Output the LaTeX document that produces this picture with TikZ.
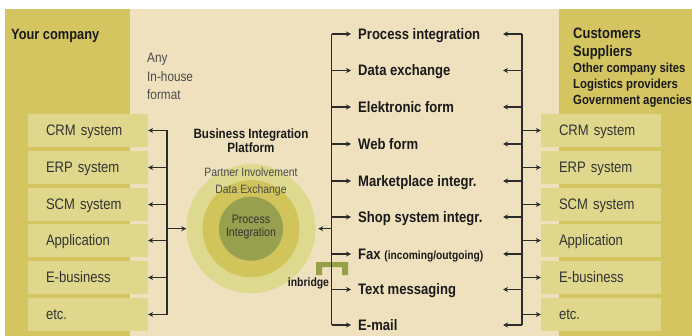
\documentclass[tikz,border=0pt]{standalone}
\usepackage{fontspec}
\setmainfont{Liberation Sans}[FakeStretch=0.86]
\usetikzlibrary{arrows.meta}
\definecolor{panelc}{HTML}{D4C560}
\definecolor{beigec}{HTML}{EFE1BE}
\definecolor{boxc}{HTML}{DFD78C}
\definecolor{outerc}{HTML}{DDD98F}
\definecolor{midc}{HTML}{D1C45B}
\definecolor{innerc}{HTML}{97A04E}
\definecolor{bridgec}{HTML}{96A049}
\definecolor{linec}{HTML}{2B2B2B}
\definecolor{darkt}{HTML}{1A1A1A}
\definecolor{txtc}{HTML}{333333}
\definecolor{greyt}{HTML}{4A4A4A}
\begin{document}
\begin{tikzpicture}[x=1pt,y=-1pt,
  conn/.style={draw=linec, line width=1.1pt, -{Stealth[length=5pt,width=5pt]}},
  bus/.style={draw=linec, line width=1.1pt},
  sysbox/.style={fill=boxc, minimum width=120pt, minimum height=33pt, inner xsep=18pt, inner ysep=0pt,
    text width=84pt, align=left, text height=10.9pt, text depth=0pt,
    font=\fontsize{15.2}{18}\selectfont, text=txtc},
  chan/.style={anchor=west, inner sep=0pt, text height=10.9pt, text depth=0pt,
    font=\bfseries\fontsize{15.2}{18}\selectfont, text=darkt},
  headtxt/.style={anchor=west, inner sep=0pt, text=darkt},
  plain/.style={inner sep=0pt, text=greyt},
  ring/.style={circle, inner sep=0pt, draw=none}
]
\useasboundingbox (0,0) rectangle (692,336);
% background
\fill[white] (0,0) rectangle (692,336);
\fill[panelc] (5,9) rectangle (130,336);
\fill[beigec] (130,9) rectangle (559,336);
\fill[panelc] (559,9) rectangle (692,336);

% headings
\node[headtxt, font=\bfseries\fontsize{14.9}{18}\selectfont, text height=10.7pt, text depth=0pt] (yc) at (11,33.7) {Your company};
\node[plain, anchor=west, font=\fontsize{13.7}{16}\selectfont, text height=9.8pt, text depth=0pt] (any1) at (147,57.3) {Any};
\node[plain, anchor=west, font=\fontsize{13.7}{16}\selectfont, text height=9.8pt, text depth=0pt] (any2) at (147,76.7) {In-house};
\node[plain, anchor=west, font=\fontsize{13.7}{16}\selectfont, text height=9.8pt, text depth=0pt] (any3) at (147,94.3) {format};

\node[headtxt, font=\bfseries\fontsize{15.1}{18}\selectfont, text height=10.8pt, text depth=0pt] (cu) at (573,33) {Customers};
\node[headtxt, font=\bfseries\fontsize{15.1}{18}\selectfont, text height=10.8pt, text depth=0pt] (su) at (573,50.8) {Suppliers};
\node[headtxt, font=\bfseries\fontsize{13.2}{16}\selectfont, text height=9.5pt, text depth=0pt] (oc) at (573,67.3) {Other company sites};
\node[headtxt, font=\bfseries\fontsize{13.2}{16}\selectfont, text height=9.5pt, text depth=0pt] (lp) at (573,83.3) {Logistics providers};
\node[headtxt, font=\bfseries\fontsize{13.2}{16}\selectfont, text height=9.5pt, text depth=0pt] (ga) at (573,99.3) {Government agencies};

% platform
\node[inner sep=0pt, text=darkt, font=\bfseries\fontsize{13.5}{16}\selectfont, text height=9.7pt, text depth=0pt] (bip1) at (251,133.8) {Business Integration};
\node[inner sep=0pt, text=darkt, font=\bfseries\fontsize{13.5}{16}\selectfont, text height=9.7pt, text depth=0pt] (bip2) at (251,147.3) {Platform};

\node[ring, fill=outerc, minimum size=129pt] (cO) at (251,228.7) {};
\node[ring, fill=midc, minimum size=97pt] (cM) at (251,228.7) {};
\node[ring, fill=innerc, minimum size=64pt] (cI) at (251,228.7) {};
\node[plain, font=\fontsize{12.1}{14}\selectfont, text height=8.7pt, text depth=0pt] (pi) at (251,171.7) {Partner Involvement};
\node[plain, font=\fontsize{12.1}{14}\selectfont, text height=8.7pt, text depth=0pt] (de) at (251,189.5) {Data Exchange};
\node[plain, text=txtc, font=\fontsize{12.3}{14}\selectfont, text height=8.8pt, text depth=0pt] (pr1) at (251,219.5) {Process};
\node[plain, text=txtc, font=\fontsize{12.3}{14}\selectfont, text height=8.8pt, text depth=0pt] (pr2) at (251,232.5) {Integration};

% boxes
\foreach \n/\y/\t in {1/130.5/CRM system,2/167.5/ERP system,3/204.5/SCM system,4/240.5/Application,5/277.5/E-business,6/314.5/etc.}{
  \node[sysbox] (lb\n) at (88,\y) {\t};
  \node[sysbox] (rb\n) at (601,\y) {\t};
}

% channels
\node[chan] (t1) at (358,34) {Process integration};
\node[chan] (t2) at (358,70.5) {Data exchange};
\node[chan] (t3) at (358,107) {Elektronic form};
\node[chan] (t4) at (358,144) {Web form};
\node[chan] (t5) at (358,181) {Marketplace integr.};
\node[chan] (t6) at (358,217) {Shop system integr.};
\node[chan] (t7) at (358,254) {Fax {\fontsize{11.9}{14}\selectfont (incoming/outgoing)}};
\node[chan] (t8) at (358,289.5) {Text messaging};
\node[chan] (t9) at (358,325) {E-mail};

% inbridge
\fill[bridgec] (316,262) -- (348,262) -- (348,275) -- (342,275) -- (342,267) -- (322,267) -- (322,275) -- (316,275) -- cycle;
\node[inner sep=0pt, anchor=base, text=darkt, font=\bfseries\fontsize{12.1}{14}\selectfont] (ib) at (308.5,286) {inbridge};

% buses
\coordinate (busL) at (167,0);
\coordinate (busR) at (331.5,0);
\coordinate (busC) at (522,0);
\coordinate (tipC) at (503,0);

\draw[bus] (busL |- lb1) -- (busL |- lb6);
\foreach \n in {1,...,6}{
  \draw[conn] (busL |- lb\n) -- (lb\n.east);
  \draw[conn] (busC |- rb\n) -- (rb\n.west);
}
\draw[conn] (busL |- cO) -- (cO.west);

\draw[bus] (busR |- t1) -- (busR |- t9);
\draw[bus] (busC |- t1) -- (busC |- t9);
\foreach \n in {1,...,9}{
  \draw[conn, shorten >=7pt] (busR |- t\n) -- (t\n.west);
  \draw[conn] (busC |- t\n) -- (tipC |- t\n);
}
\draw[conn, shorten >=2.5pt] (busR |- cO) -- (cO.east);
\end{tikzpicture}
\end{document}
